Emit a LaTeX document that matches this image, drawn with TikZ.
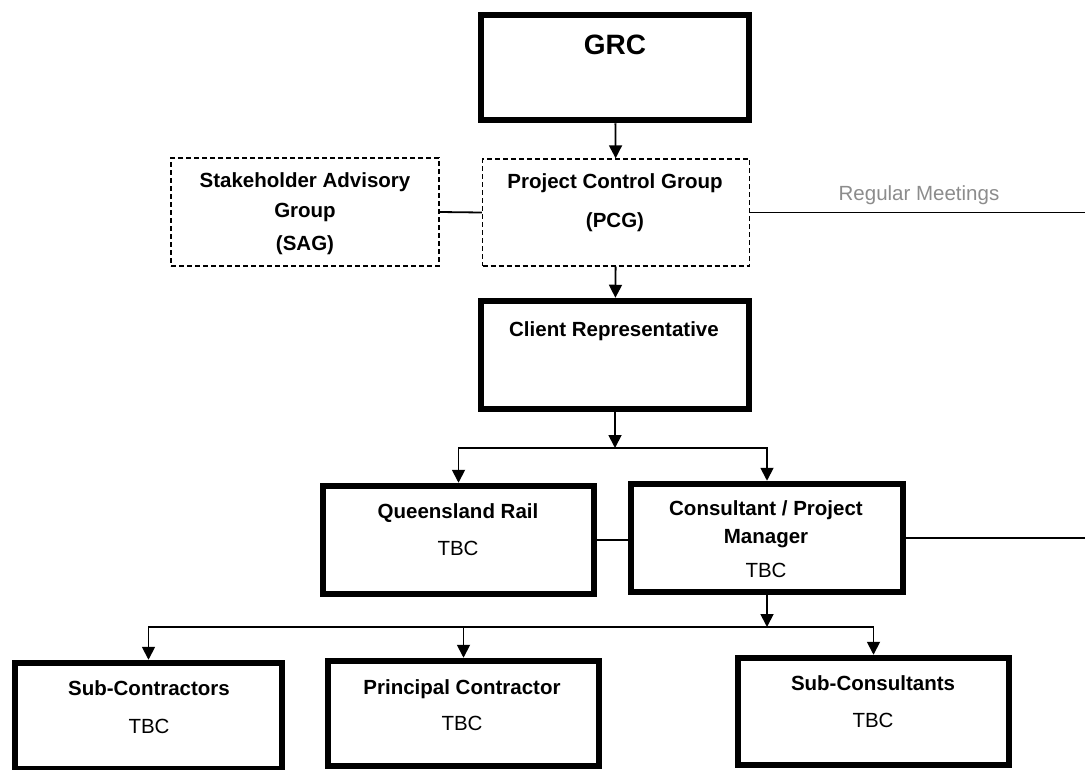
\documentclass[tikz,border=0pt]{standalone}
\usepackage{fontspec}
\setmainfont{Liberation Sans}
\usepackage{tikz}
\usetikzlibrary{arrows.meta, positioning, calc}
\definecolor{meetgray}{RGB}{140, 140, 140}

\begin{document}
\begin{tikzpicture}[
    x=1pt, y=-1pt,
    heavy/.style={draw, line width=6.5pt, inner sep=0pt},
    advisory/.style={draw, line width=1.4pt, dash pattern=on 5pt off 3pt, inner sep=0pt},
    head/.style={font=\bfseries\fontsize{20.5}{24}\selectfont, anchor=base, inner sep=0pt},
    plain/.style={font=\fontsize{20.5}{24}\selectfont, anchor=base, inner sep=0pt},
    link/.style={line width=1.8pt},
    arrow/.style={-{Triangle[length=13pt, width=13pt]}, line width=1.8pt}
]
    \useasboundingbox (0,0) rectangle (1085,769);
    \clip (0,0) rectangle (1085,769);
    \coordinate (edge) at (1085,0);

    % Boxes - top
    \node[heavy, minimum width=268, minimum height=105] (grc) at (615,67.5) {};
    \node[advisory, minimum width=267, minimum height=107] (pcg) at (616,212.5) {};
    \node[advisory, minimum width=268, minimum height=108] (sag) at (305,212) {};
    \node[heavy, minimum width=268, minimum height=108] (client) at (615,355) {};

    % Boxes - middle row
    \node[heavy, minimum width=271, minimum height=108] (qrail) at (458.5,540) {};
    \node[heavy, minimum width=272, minimum height=108] (consult) at (767,538) {};

    % Boxes - bottom row
    \node[heavy, minimum width=267, minimum height=106] (subcon) at (148.5,716) {};
    \node[heavy, minimum width=271, minimum height=105] (principal) at (463.5,713.5) {};
    \node[heavy, minimum width=271, minimum height=107] (subcons) at (873.5,711.5) {};

    % Texts
    \node[head, font=\bfseries\fontsize{28}{32}\selectfont] (grct) at (615,54) {GRC};
    \node[head] (pcgt1) at (615,188) {Project Control Group};
    \node[head] (pcgt2) at (615,227) {(PCG)};
    \node[head] (sagt1) at (305,187) {Stakeholder Advisory};
    \node[head] (sagt2) at (305,217) {Group};
    \node[head] (sagt3) at (305,250) {(SAG)};
    \node[head] (clientt) at (614,336) {Client Representative};
    \node[head] (qrailt) at (458,518) {Queensland Rail};
    \node[plain] (qrailb) at (458,555) {TBC};
    \node[head] (consultt1) at (766,515) {Consultant / Project};
    \node[head] (consultt2) at (766,543) {Manager};
    \node[plain] (consultb) at (766,577) {TBC};
    \node[head] (subcont) at (149,695) {Sub-Contractors};
    \node[plain] (subconb) at (149,733) {TBC};
    \node[head] (principalt) at (462,694) {Principal Contractor};
    \node[plain] (principalb) at (462,730) {TBC};
    \node[head] (subconst) at (873,690) {Sub-Consultants};
    \node[plain] (subconsb) at (873,727) {TBC};
    \node[plain, text=meetgray] (meet) at (919,200) {Regular Meetings};

    % Split points
    \coordinate (split1) at (615,448);
    \coordinate (split2) at (770,627);

    % Connectors
    \draw[arrow] (grc) -- (pcg);
    \draw[arrow] (pcg) -- (client);
    \draw[link] (sag.east) -- (pcg.west);
    \draw[link] (pcg.east) -- (pcg.east -| edge);
    \draw[arrow] (client) -- (split1);
    \draw[arrow] (split1) -| (qrail.north);
    \draw[arrow] (split1) -| (consult.north);
    \draw[link] (qrail.east) -- (qrail.east -| consult.west);
    \draw[link] (consult.east) -- (consult.east -| edge);
    \draw[arrow] (consult.south) -- (consult.south |- split2);
    \draw[arrow] (split2) -| (subcon.north);
    \draw[arrow] (split2) -| (principal.north);
    \draw[arrow] (split2) -| (subcons.north);
\end{tikzpicture}
\end{document}
